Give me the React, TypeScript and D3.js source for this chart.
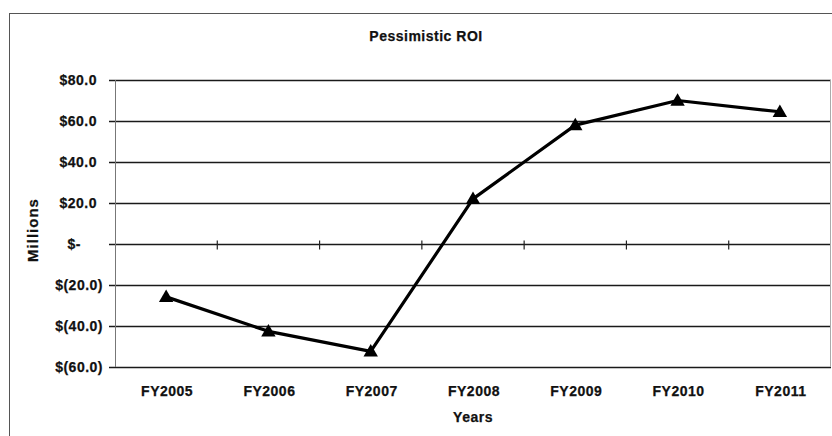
import React, { useEffect, useRef } from "react";
import * as d3 from "d3";

const categories = ["FY2005", "FY2006", "FY2007", "FY2008", "FY2009", "FY2010", "FY2011"];
const roiValues = [-25.8, -42.6, -52.4, 22.0, 58.0, 70.0, 64.5];
const yTicks = [80, 60, 40, 20, 0, -20, -40, -60];

const chartTitle = "Pessimistic ROI";
const xTitle = "Years";
const yTitle = "Millions";

// Excel accounting style: $80.0, $(20.0), $-
const fmtMoney = (v: number) =>
  v === 0 ? "$-" : v < 0 ? `$(${Math.abs(v).toFixed(1)})` : `$${v.toFixed(1)}`;

const App = () => {
  const svgRef = useRef<SVGSVGElement | null>(null);

  useEffect(() => {
    const svg = d3.select(svgRef.current);
    svg.selectAll("*").remove();

    const width = 832,
      height = 436;
    const plot = { left: 115, right: 831, top: 80, bottom: 367 };
    const font = "'Liberation Sans', Arial, sans-serif";

    // shared bold label look (scanned text is a bit heavy)
    const boldText = (sel: any, size = 14, spacing = 0.5) =>
      sel
        .style("font-family", font)
        .style("font-weight", "bold")
        .style("font-size", `${size}px`)
        .style("letter-spacing", `${spacing}px`)
        .attr("fill", "#111")
        .attr("stroke", "#111")
        .attr("stroke-width", 0.25);

    svg.append("rect").attr("width", width).attr("height", height).attr("fill", "#fff");

    // outer chart border (runs off the right/bottom)
    svg
      .append("rect")
      .attr("x", 9.5)
      .attr("y", 13.5)
      .attr("width", 840)
      .attr("height", 440)
      .attr("fill", "none")
      .attr("stroke", "#555")
      .attr("stroke-width", 1);

    const x = d3.scaleBand().domain(categories).range([plot.left, plot.right]).padding(0);
    const y = d3.scaleLinear().domain([-60, 80]).range([plot.bottom, plot.top]);

    // gridlines + left tick marks
    svg
      .append("g")
      .selectAll("line")
      .data(yTicks)
      .join("line")
      .attr("x1", plot.left - 6)
      .attr("x2", plot.right)
      .attr("y1", (d) => Math.round(y(d)) + 0.5)
      .attr("y2", (d) => Math.round(y(d)) + 0.5)
      .attr("stroke", "#1a1a1a")
      .attr("stroke-width", 1.4);

    // plot area side borders
    svg
      .append("line")
      .attr("x1", plot.left + 0.5)
      .attr("x2", plot.left + 0.5)
      .attr("y1", plot.top)
      .attr("y2", plot.bottom)
      .attr("stroke", "#777")
      .attr("stroke-width", 1);
    svg
      .append("line")
      .attr("x1", plot.right - 0.5)
      .attr("x2", plot.right - 0.5)
      .attr("y1", plot.top)
      .attr("y2", plot.bottom)
      .attr("stroke", "#aaa")
      .attr("stroke-width", 1);

    // category ticks on the zero line
    const y0 = Math.round(y(0)) + 0.5;
    svg
      .append("g")
      .selectAll("line")
      .data(categories.slice(1))
      .join("line")
      .attr("x1", (d) => x(d)!)
      .attr("x2", (d) => x(d)!)
      .attr("y1", y0 - 4)
      .attr("y2", y0 + 5)
      .attr("stroke", "#222")
      .attr("stroke-width", 1.2);

    // y tick labels
    boldText(
      svg
        .append("g")
        .selectAll("text")
        .data(yTicks)
        .join("text")
        .attr("x", (d) => (d === 0 ? 81 : d < 0 ? 103 : 97))
        .attr("y", (d) => y(d) + 5)
        .attr("text-anchor", "end")
        .text((d) => fmtMoney(d))
    );

    // x tick labels
    boldText(
      svg
        .append("g")
        .selectAll("text")
        .data(categories)
        .join("text")
        .attr("x", (d) => x(d)! + x.bandwidth() / 2 + 1)
        .attr("y", 396)
        .attr("text-anchor", "middle")
        .text((d) => d)
    );

    // titles
    boldText(
      svg
        .append("text")
        .attr("x", 426)
        .attr("y", 41)
        .attr("text-anchor", "middle")
        .text(chartTitle)
    );

    boldText(
      svg
        .append("text")
        .attr("x", 473)
        .attr("y", 422)
        .attr("text-anchor", "middle")
        .text(xTitle)
    );

    boldText(
      svg
        .append("text")
        .attr("transform", `translate(38,230) rotate(-90)`)
        .attr("text-anchor", "middle")
        .text(yTitle),
      15,
      1
    );

    // series line
    const pts: [number, number][] = categories.map((c, i) => [
      x(c)! + x.bandwidth() / 2,
      y(roiValues[i]),
    ]);
    svg
      .append("path")
      .datum(pts)
      .attr("d", d3.line())
      .attr("fill", "none")
      .attr("stroke", "#000")
      .attr("stroke-width", 3.2)
      .attr("stroke-linejoin", "round");

    // triangle markers
    const tri = d3.symbol().type(d3.symbolTriangle).size(90);
    svg
      .append("g")
      .selectAll("path")
      .data(pts)
      .join("path")
      .attr("d", tri)
      .attr("transform", (d) => `translate(${d[0]},${d[1] + 1})`)
      .attr("fill", "#000");
  }, []);

  return (
    <svg
      ref={svgRef}
      width={832}
      height={436}
      style={{ position: "absolute", left: 0, top: 0, display: "block" }}
    />
  );
};

export default App;
